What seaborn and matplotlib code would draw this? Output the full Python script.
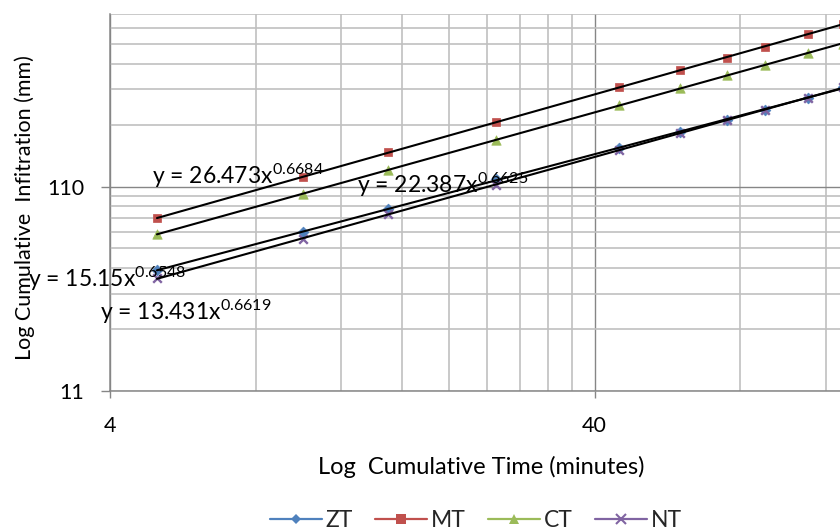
import numpy as np
import pandas as pd
import matplotlib
matplotlib.use("Agg")
import matplotlib.pyplot as plt
from matplotlib.ticker import FixedLocator, NullFormatter, FuncFormatter
from matplotlib.lines import Line2D
import seaborn as sns

# ---------------- data ----------------
time_min = [5, 10, 15, 25, 45, 60, 75, 90, 110, 130]
zt = [42.9, 65.8, 85.8, 119.5, 171, 204, 234, 262, 298, 338]
mt = [77.5, 122, 162, 227, 337, 410, 470, 533, 615, 689]
ct = [64.6, 100.8, 132.7, 186.3, 275.8, 333, 387, 433, 495, 552]
nt = [39.3, 61.1, 80.4, 111.6, 166.4, 202.5, 233.5, 261.5, 297.5, 338]
series_names = ["ZT", "MT", "CT", "NT"]
eq_main = ["y = 15.15x", "y = 26.473x", "y = 22.387x", "y = 13.431x"]
eq_power = ["0.6548", "0.6684", "0.6625", "0.6619"]
x_major_ticks = [4, 40]
y_major_ticks = [11, 110]
x_minor_grid = [8, 12, 16, 20, 24, 28, 32, 36, 80, 120]
y_minor_grid = [22, 33, 44, 55, 66, 77, 88, 99, 220, 330, 440, 550, 660, 770]
x_label = "Log  Cumulative Time (minutes)"
y_label = "Log Cumulative  Infitration (mm)"

# ---------------- styles ----------------
colors = {"ZT": "#4F81BD", "MT": "#C0504D", "CT": "#9BBB59", "NT": "#8064A2"}
markers = {"ZT": "D", "MT": "s", "CT": "^", "NT": "x"}
msizes = {"ZT": 30, "MT": 36, "CT": 46, "NT": 38}
# equation label positions (pixel: left, baseline)
eq_pos = {"ZT": (28, 286.7), "MT": (151.7, 184.3), "CT": (357, 192.7), "NT": (100, 320.5)}

sns.set_theme(style="white")
plt.rcParams["font.family"] = ["Lato", "DejaVu Sans"]
plt.rcParams["mathtext.default"] = "regular"

W, H = 840, 528
fig = plt.figure(figsize=(W / 100, H / 100), dpi=100)
ax_left, ax_right, ax_top, ax_bottom = 110, 840, 14, 391
ax = fig.add_axes([ax_left / W, (H - ax_bottom) / H,
                   (ax_right - ax_left) / W, (ax_bottom - ax_top) / H])

df = pd.DataFrame({
    "time": time_min * 4,
    "value": zt + mt + ct + nt,
    "series": sum([[n] * len(time_min) for n in series_names], []),
})

ax.set_xscale("log")
ax.set_yscale("log")

for name in series_names:
    sub = df[df["series"] == name]
    if markers[name] == "x":
        sns.scatterplot(data=sub, x="time", y="value", marker="x", color=colors[name],
                        s=msizes[name], linewidth=1.7, ax=ax, legend=False, zorder=3)
    else:
        sns.scatterplot(data=sub, x="time", y="value", marker=markers[name], color=colors[name],
                        edgecolor=colors[name], s=msizes[name], linewidth=0.5, ax=ax,
                        legend=False, zorder=3)

# power trendlines fitted to each series (as Excel does)
for name in series_names:
    sub = df[df["series"] == name]
    lx = np.log10(sub["time"].to_numpy(float))
    ly = np.log10(sub["value"].to_numpy(float))
    b, a = np.polyfit(lx, ly, 1)
    xs = np.geomspace(sub["time"].min(), sub["time"].max(), 200)
    ax.plot(xs, 10 ** (a + b * np.log10(xs)), color="black", lw=1.5, zorder=4)

ax.set_xlim(4, 4 * 10 ** ((ax_right - ax_left) / 484.6))
ax.set_ylim(11, 770)

ax.xaxis.set_major_locator(FixedLocator(x_major_ticks))
ax.yaxis.set_major_locator(FixedLocator(y_major_ticks))
ax.xaxis.set_minor_locator(FixedLocator(x_minor_grid))
ax.yaxis.set_minor_locator(FixedLocator(y_minor_grid))
fmt = FuncFormatter(lambda v, p: f"{v:g}")
ax.xaxis.set_major_formatter(fmt)
ax.yaxis.set_major_formatter(fmt)
ax.xaxis.set_minor_formatter(NullFormatter())
ax.yaxis.set_minor_formatter(NullFormatter())

ax.set_axisbelow(True)
ax.grid(which="minor", color="#C0C0C0", lw=1.2)
ax.grid(which="major", color="#868686", lw=1.0)

for s in ["top", "right"]:
    ax.spines[s].set_visible(False)
for s in ["left", "bottom"]:
    ax.spines[s].set_color("#868686")
    ax.spines[s].set_linewidth(1.1)

ax.tick_params(axis="x", which="major", bottom=True, direction="out", length=5.3,
               width=1.0, color="#868686", pad=13, labelsize=15.5, labelcolor="black")
ax.tick_params(axis="y", which="major", left=True, direction="out", length=6.7,
               width=1.0, color="#868686", pad=12, labelsize=15.5, labelcolor="black")
ax.tick_params(which="minor", length=0)

ax.set_xlabel(x_label, fontsize=17, color="black")
ax.xaxis.set_label_coords(481 / W, 1 - 474.3 / H, transform=fig.transFigure)
ax.xaxis.label.set_va("baseline")
ax.set_ylabel(y_label, fontsize=15.5, color="black")
ax.yaxis.set_label_coords(25 / W, 1 - 208 / H, transform=fig.transFigure)
ax.yaxis.label.set_va("center")

for name, main, pw in zip(series_names, eq_main, eq_power):
    px, py = eq_pos[name]
    fig.text(px / W, 1 - py / H, main + r"$^{" + pw + "}$", fontsize=16.5,
             ha="left", va="baseline", color="black", zorder=5)

handles = []
for name in series_names:
    if markers[name] == "x":
        h = Line2D([0], [0], color=colors[name], lw=1.6, marker="x", markersize=6.5,
                   markeredgewidth=1.5)
    else:
        h = Line2D([0], [0], color=colors[name], lw=1.6, marker=markers[name],
                   markersize=6.5 if markers[name] != "D" else 5.5, markeredgewidth=0)
    handles.append(h)
fig.legend(handles, series_names, loc="center", bbox_to_anchor=(476 / W, 1 - 520.5 / H),
           ncol=4, frameon=False, fontsize=16.5, handlelength=2.27, handletextpad=0.18,
           columnspacing=0.96, borderpad=0)

fig.savefig("out.png", dpi=100)
